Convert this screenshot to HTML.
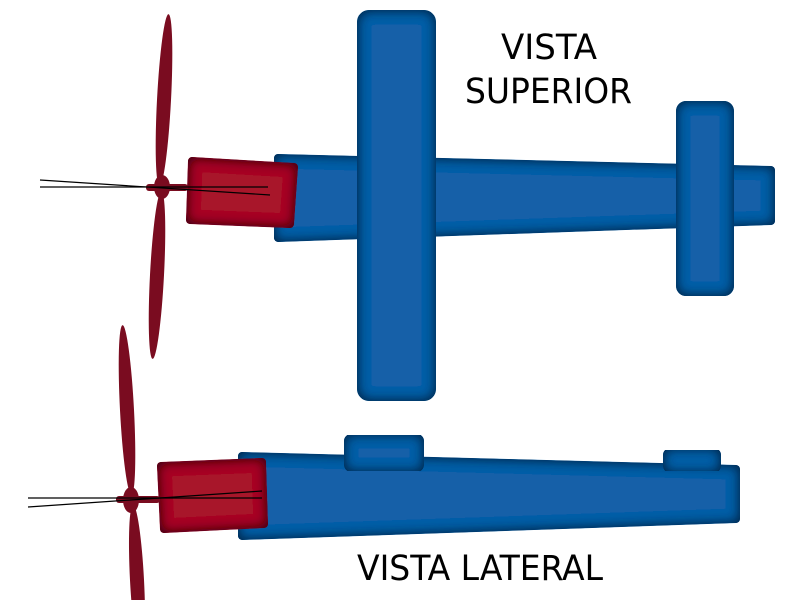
<!DOCTYPE html>
<html><head><style>html,body{margin:0;background:#fff;overflow:hidden;width:800px;height:600px}svg{display:block}</style></head><body>
<svg width="800" height="600" viewBox="0 0 800 600" xmlns="http://www.w3.org/2000/svg">
<defs>
<filter id="inB" x="-10%" y="-10%" width="120%" height="120%">
<feGaussianBlur in="SourceAlpha" stdDeviation="6" result="b"/>
<feComposite in="SourceAlpha" in2="b" operator="arithmetic" k2="1" k3="-1" result="e"/>
<feFlood flood-color="#05284d"/><feComposite in2="e" operator="in" result="s"/>
<feMerge><feMergeNode in="SourceGraphic"/><feMergeNode in="s"/><feMergeNode in="s"/></feMerge></filter>
<filter id="inR" x="-10%" y="-10%" width="120%" height="120%">
<feGaussianBlur in="SourceAlpha" stdDeviation="6" result="b"/>
<feComposite in="SourceAlpha" in2="b" operator="arithmetic" k2="1" k3="-1" result="e"/>
<feFlood flood-color="#3e0410"/><feComposite in2="e" operator="in" result="s"/>
<feMerge><feMergeNode in="SourceGraphic"/><feMergeNode in="s"/><feMergeNode in="s"/></feMerge></filter>
</defs>
<g fill="#1360a8" stroke="#1360a8" stroke-width="8" stroke-linejoin="round">
<polygon filter="url(#inB)" points="278,158 771,170 771,221 278,238"/>
<rect filter="url(#inB)" x="361" y="14" width="71" height="383" rx="8"/>
<rect filter="url(#inB)" x="680" y="105" width="50" height="187" rx="6"/>
<polygon filter="url(#inB)" points="242,456 736,469 736,519 242,536"/>
<rect filter="url(#inB)" x="348" y="438" width="72" height="30" rx="3"/>
<rect filter="url(#inB)" x="667" y="452" width="50" height="17" rx="3"/>
</g>
<g fill="#a8132a" stroke="#a8132a" stroke-width="8" stroke-linejoin="round">
<polygon filter="url(#inR)" points="192,161 294,167 290,224 190,220"/>
<polygon filter="url(#inR)" points="161,466 262,462 264,524 164,529"/>
</g>
<g fill="#7a0c20">
<ellipse cx="164" cy="100" rx="7" ry="86" transform="rotate(3 164 100)"/>
<ellipse cx="157" cy="275" rx="7" ry="84" transform="rotate(3 157 275)"/>
<ellipse cx="162" cy="187" rx="8" ry="12"/>
<rect x="146" y="184" width="42" height="7" rx="3"/>
<ellipse cx="127" cy="410" rx="7" ry="85" transform="rotate(-3 127 410)"/>
<ellipse cx="137" cy="580" rx="7" ry="75" transform="rotate(-3 137 580)"/>
<ellipse cx="131" cy="500" rx="8" ry="13"/>
<rect x="116" y="496" width="44" height="7" rx="3"/>
</g>
<g stroke="#000" stroke-width="1.2">
<line x1="40" y1="180" x2="270" y2="195"/>
<line x1="40" y1="187" x2="268" y2="187"/>
<line x1="28" y1="498" x2="262" y2="498"/>
<line x1="28" y1="507" x2="262" y2="491"/>
</g>
<g font-family="'DejaVu Sans Condensed','Liberation Sans',sans-serif" font-size="35" fill="#000">
<text x="501" y="59" textLength="96" lengthAdjust="spacingAndGlyphs">VISTA</text>
<text x="465" y="103" textLength="167" lengthAdjust="spacingAndGlyphs">SUPERIOR</text>
<text x="357" y="580" textLength="246" lengthAdjust="spacingAndGlyphs">VISTA LATERAL</text>
</g>
</svg>
</body></html>
